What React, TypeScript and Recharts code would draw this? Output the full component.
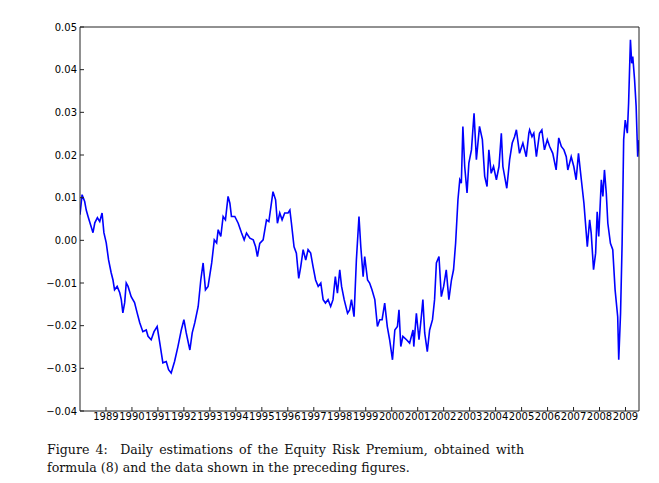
import React from "react";
import { LineChart, Line, XAxis, YAxis } from "recharts";

// decimal year of each reading
const YEARS = [
  1988.0, 1988.08, 1988.18, 1988.24, 1988.31, 1988.43, 1988.5, 1988.57, 1988.67, 1988.76, 1988.85, 1988.92,
  1989.01, 1989.1, 1989.2, 1989.27, 1989.33, 1989.43, 1989.53, 1989.59, 1989.65, 1989.72, 1989.78, 1989.85, 1989.97,
  1990.1, 1990.2, 1990.3, 1990.42, 1990.55, 1990.62, 1990.74, 1990.85, 1990.97,
  1991.07, 1991.19, 1991.32, 1991.41, 1991.51, 1991.64, 1991.77, 1991.9,
  1992.0, 1992.09, 1992.17, 1992.23, 1992.32, 1992.42, 1992.55, 1992.65, 1992.74, 1992.83, 1992.93,
  1993.07, 1993.17, 1993.26, 1993.32, 1993.42, 1993.51, 1993.6, 1993.7, 1993.77, 1993.83, 1993.96,
  1994.09, 1994.22, 1994.32, 1994.41, 1994.54, 1994.67, 1994.76, 1994.83, 1994.92,
  1995.05, 1995.18, 1995.27, 1995.35, 1995.43, 1995.53, 1995.6, 1995.69, 1995.78, 1995.88,
  1996.01, 1996.08, 1996.14, 1996.24, 1996.33, 1996.42, 1996.5, 1996.59, 1996.69, 1996.78, 1996.88, 1996.97,
  1997.07, 1997.17, 1997.27, 1997.36, 1997.45, 1997.55, 1997.65, 1997.74, 1997.83, 1997.91,
  1998.0, 1998.07, 1998.17, 1998.3, 1998.38, 1998.45, 1998.55, 1998.64, 1998.74, 1998.81, 1998.9, 1998.96,
  1999.07, 1999.15, 1999.24, 1999.35, 1999.45, 1999.54, 1999.63, 1999.73, 1999.83, 1999.92,
  2000.03, 2000.12, 2000.22, 2000.28, 2000.35, 2000.43, 2000.57, 2000.69, 2000.82, 2000.85, 2000.95,
  2001.05, 2001.14, 2001.2, 2001.27, 2001.37, 2001.46, 2001.57, 2001.65, 2001.72, 2001.82, 2001.91,
  2002.0, 2002.1, 2002.2, 2002.3, 2002.38, 2002.46, 2002.55, 2002.62, 2002.68, 2002.74, 2002.81, 2002.9, 2002.97,
  2003.07, 2003.17, 2003.26, 2003.38, 2003.49, 2003.58, 2003.67, 2003.74, 2003.83, 2003.92,
  2004.03, 2004.13, 2004.22, 2004.28, 2004.43, 2004.54, 2004.64, 2004.73, 2004.8, 2004.92,
  2005.05, 2005.18, 2005.28, 2005.31, 2005.4, 2005.47, 2005.57, 2005.69, 2005.78, 2005.88, 2005.99,
  2006.08, 2006.2, 2006.33, 2006.43, 2006.53, 2006.63, 2006.72, 2006.78, 2006.91,
  2007.01, 2007.1, 2007.19, 2007.3, 2007.4, 2007.49, 2007.53, 2007.62, 2007.68, 2007.77, 2007.85, 2007.91, 2007.97,
  2008.07, 2008.13, 2008.19, 2008.26, 2008.32, 2008.42, 2008.51, 2008.6, 2008.7, 2008.74, 2008.81, 2008.87, 2008.93, 2008.99,
  2009.07, 2009.12, 2009.19, 2009.24, 2009.28, 2009.35, 2009.41, 2009.47, 2009.52,
];

// equity risk premium estimate at each reading
const ERP = [
  0.006, 0.0107, 0.0091, 0.0071, 0.0056, 0.0032, 0.0018, 0.0041, 0.0053, 0.0044, 0.0064, 0.0018,
  -0.0006, -0.0046, -0.0076, -0.0093, -0.0116, -0.0108, -0.0123, -0.0139, -0.017, -0.0146, -0.01, -0.0108, -0.0132,
  -0.0146, -0.017, -0.0193, -0.0214, -0.021, -0.0225, -0.0233, -0.0214, -0.0202,
  -0.024, -0.0287, -0.0284, -0.0303, -0.0311, -0.0284, -0.0249, -0.021,
  -0.0186, -0.0217, -0.024, -0.0257, -0.0217, -0.0193, -0.0155, -0.0093, -0.0053, -0.0116, -0.0108,
  -0.0053, 0.0001, -0.0006, 0.0025, 0.0009, 0.0056, 0.0048, 0.0103, 0.0087, 0.0056, 0.0056,
  0.004, 0.0017, 0.0001, 0.0017, 0.0005, 0.0001, -0.0015, -0.0038, -0.0007,
  0.0001, 0.0048, 0.0044, 0.0079, 0.0114, 0.0095, 0.004, 0.0064, 0.0048, 0.0064,
  0.0064, 0.0071, 0.004, -0.0015, -0.003, -0.0089, -0.0061, -0.0022, -0.0046, -0.0022, -0.003, -0.0061,
  -0.0093, -0.0108, -0.01, -0.0139, -0.0147, -0.0139, -0.0155, -0.0139, -0.0085, -0.0124,
  -0.0069, -0.0108, -0.0139, -0.0171, -0.0163, -0.0139, -0.0179, -0.0046, 0.0056, -0.0015, -0.0085, -0.0038,
  -0.0093, -0.01, -0.0116, -0.0139, -0.0202, -0.0186, -0.0186, -0.0147, -0.0202, -0.0233,
  -0.028, -0.021, -0.0202, -0.0163, -0.0249, -0.0225, -0.0233, -0.0241, -0.021, -0.0249, -0.0171,
  -0.0233, -0.0179, -0.0139, -0.0217, -0.0261, -0.021, -0.0186, -0.0139, -0.0053, -0.0038, -0.0132,
  -0.0108, -0.0069, -0.0139, -0.0093, -0.0069, -0.0007, 0.0095, 0.0142, 0.0134, 0.0267, 0.0173, 0.0111, 0.0181,
  0.0212, 0.0298, 0.0189, 0.0267, 0.0236, 0.015, 0.0126, 0.0212, 0.0157, 0.0173,
  0.0142, 0.0173, 0.0251, 0.0173, 0.0122, 0.0189, 0.0228, 0.0243, 0.0259, 0.0204,
  0.0228, 0.0196, 0.0251, 0.0259, 0.0243, 0.0251, 0.0196, 0.0251, 0.0259, 0.0212, 0.0236,
  0.022, 0.0204, 0.0165, 0.024, 0.022, 0.0212, 0.0196, 0.0165, 0.0196,
  0.0173, 0.0142, 0.0204, 0.0142, 0.0087, 0.0017, -0.0015, 0.0048, 0.0017, -0.0069, -0.003, 0.0067, 0.0009,
  0.0142, 0.0103, 0.0165, 0.0111, 0.004, -0.0007, -0.0022, -0.0116, -0.0179, -0.028, -0.0171, -0.0007, 0.0236, 0.0282,
  0.0251, 0.0322, 0.047, 0.0415, 0.0431, 0.0376, 0.0314, 0.0196, 0.0235,
];

const X_TICKS = [
  1989, 1990, 1991, 1992, 1993, 1994, 1995, 1996, 1997, 1998, 1999,
  2000, 2001, 2002, 2003, 2004, 2005, 2006, 2007, 2008, 2009,
];
const Y_TICKS = [-0.04, -0.03, -0.02, -0.01, 0, 0.01, 0.02, 0.03, 0.04, 0.05];
const X_DOMAIN: [number, number] = [1988.0, 2009.52];
const Y_DOMAIN: [number, number] = [-0.04, 0.05];

const data = YEARS.map((t, i) => ({ t, erp: ERP[i] }));

const fmtY = (v: number) => {
  const r = Math.round(v * 100) / 100;
  if (r === 0) return "0.00";
  return r < 0 ? "\u2212" + Math.abs(r).toFixed(2) : r.toFixed(2);
};

const tickFont = { fill: "#000", fontSize: 10, fontFamily: "DejaVu Sans" };
const frame = { stroke: "#222", strokeWidth: 1 };

export default function App() {
  return (
    <div
      style={{
        position: "absolute",
        left: 0,
        top: 0,
        width: 659,
        height: 483,
        background: "#fff",
      }}
    >
      <LineChart
        width={659}
        height={430}
        data={data}
        margin={{ top: 26, right: 19, left: 0, bottom: 0 }}
      >
        <XAxis
          dataKey="t"
          type="number"
          domain={X_DOMAIN}
          ticks={X_TICKS}
          interval={0}
          allowDataOverflow
          height={19}
          tickSize={-4}
          tickMargin={6}
          axisLine={frame}
          tickLine={frame}
          tick={tickFont}
          tickFormatter={(v) => String(v)}
        />
        <XAxis
          xAxisId="top"
          orientation="top"
          dataKey="t"
          type="number"
          domain={X_DOMAIN}
          ticks={X_TICKS}
          interval={0}
          allowDataOverflow
          height={1}
          tickSize={-4}
          axisLine={frame}
          tickLine={frame}
          tick={false}
        />
        <YAxis
          type="number"
          domain={Y_DOMAIN}
          ticks={Y_TICKS}
          interval={0}
          allowDataOverflow
          width={80}
          tickSize={-4}
          tickMargin={7}
          axisLine={frame}
          tickLine={frame}
          tick={tickFont}
          tickFormatter={fmtY}
        />
        <YAxis
          yAxisId="right"
          orientation="right"
          type="number"
          domain={Y_DOMAIN}
          ticks={Y_TICKS}
          interval={0}
          allowDataOverflow
          width={1}
          tickSize={-4}
          axisLine={frame}
          tickLine={frame}
          tick={false}
        />
        {/* invisible twin so the top/right frame axes are registered */}
        <Line
          xAxisId="top"
          yAxisId="right"
          dataKey="erp"
          stroke="none"
          dot={false}
          legendType="none"
          isAnimationActive={false}
        />
        <Line
          type="linear"
          dataKey="erp"
          stroke="#0000ff"
          strokeWidth={1.6}
          dot={false}
          isAnimationActive={false}
        />
      </LineChart>
      <div
        style={{
          position: "absolute",
          left: 47,
          top: 441,
          width: 477,
          fontFamily: "DejaVu Serif, serif",
          fontSize: 12.6,
          lineHeight: "18px",
          color: "#111",
        }}
      >
        <div style={{ textAlign: "justify", textAlignLast: "justify", whiteSpace: "nowrap" }}>
          Figure 4:&nbsp; Daily estimations of the Equity Risk Premium, obtained with
        </div>
        <div style={{ whiteSpace: "nowrap" }}>formula (8) and the data shown in the preceding figures.</div>
      </div>
    </div>
  );
}
